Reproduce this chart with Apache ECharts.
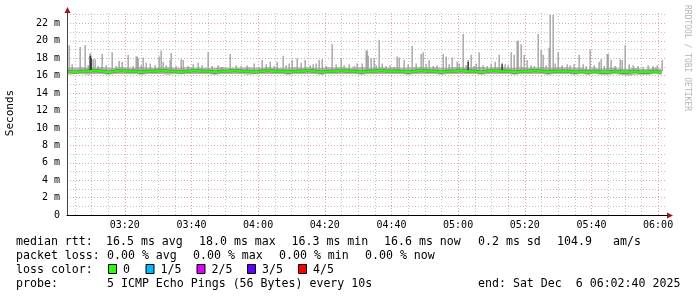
<!DOCTYPE html>
<html><head><meta charset="utf-8">
<script src="https://cdn.jsdelivr.net/npm/echarts@6/dist/echarts.min.js"></script>
<style>html,body{margin:0;padding:0;background:#fff}#c{width:697px;height:297px}</style>
</head><body><div id="c"></div><script>
// time values are minutes after 03:00
const startMin = 2 + 40 / 60;   // 03:02:40
const endMin = 182 + 40 / 60;   // 06:02:40
const yMax = 23.2;
const yLabelValues = [0, 2, 4, 6, 8, 10, 12, 14, 16, 18, 20, 22];
const yMinorValues = [0,1,2,3,4,5,6,7,8,9,10,11,12,13,14,15,16,17,18,19,20,21,22,23];
const xLabelValues = [20, 40, 60, 80, 100, 120, 140, 160, 180];
const xMinorValues = [5,10,15,20,25,30,35,40,45,50,55,60,65,70,75,80,85,90,95,100,105,110,115,120,125,130,135,140,145,150,155,160,165,170,175,180];

// smoke band / median, one value every 2 minutes from 03:03
const bandStart = 3, bandStep = 2;
const median = [16.5,16.4,16.5,16.5,16.6,16.5,16.4,16.5,16.6,16.5,
16.5,16.4,16.5,16.5,16.6,16.5,16.5,16.4,16.5,16.6,
16.5,16.5,16.4,16.5,16.5,16.6,16.5,16.5,16.4,16.5,
16.6,16.5,16.5,16.4,16.5,16.5,16.6,16.5,16.4,16.5,
16.5,16.6,16.5,16.5,16.4,16.5,16.5,16.6,16.5,16.5,
16.5,16.4,16.5,16.6,16.5,16.5,16.4,16.5,16.5,16.6,
16.5,16.5,16.4,16.5,16.6,16.5,16.5,16.4,16.5,16.5,
16.6,16.5,16.4,16.5,16.5,16.5,16.4,16.5,16.4,16.5,
16.4,16.4,16.5,16.4,16.4,16.5,16.4,16.4,16.5,16.4];
const bandLow = [16.1,16.2,16.2,16.1,16.2,16.2,16.1,16.2,16.2,16.2,
16.2,16.1,16.2,16.2,16.2,16.1,16.2,16.2,16.2,16.2,
16.2,16.2,16.1,16.2,16.2,16.2,16.2,16.1,16.2,16.2,
16.2,16.2,16.2,16.1,16.2,16.2,16.2,16.2,16.1,16.2,
16.2,16.2,16.2,16.2,16.1,16.2,16.2,16.2,16.2,16.2,
16.2,16.1,16.2,16.2,16.2,16.2,16.1,16.2,16.2,16.2,
16.2,16.2,16.1,16.2,16.2,16.2,16.2,16.1,16.2,16.2,
16.2,16.2,16.1,16.2,16.2,16.2,16.1,16.2,16.1,16.2,
16.1,16.1,16.2,16.1,16.0,16.1,16.1,16.1,16.2,16.1];
const bandHigh = [16.9,16.9,17.0,16.9,16.9,17.0,16.9,16.9,17.0,16.9,
16.9,17.0,16.9,16.9,16.9,17.0,16.9,16.9,17.0,16.9,
16.9,16.9,16.9,17.0,16.9,16.9,16.9,17.0,16.9,16.9,
17.0,16.9,16.9,16.9,17.0,16.9,17.0,16.9,16.9,17.0,
16.9,17.0,16.9,16.9,17.0,16.9,16.9,17.0,16.9,17.0,
16.9,16.9,17.0,17.0,16.9,17.0,16.9,16.9,17.0,17.0,
16.9,17.0,17.0,16.9,17.0,17.0,16.9,16.9,17.0,16.9,
16.9,17.0,16.9,16.9,17.0,16.9,16.9,16.9,16.8,16.9,
16.8,16.9,16.9,16.8,16.8,16.9,16.8,16.8,16.9,16.8];

// single-sample smoke spikes (minutes after 03:00, top in ms)
const spikeBase = 16.5;
const spikeMin = [3.3,4.2,6.6,8.1,9.0,9.6,9.9,10.5,11.1,12.0,13.2,14.4,16.2,17.4,18.3,19.2,21.0,22.5,23.4,23.7,24.0,24.9,25.5,26.4,27.6,29.1,30.3,30.9,31.5,32.4,33.6,33.9,35.4,36.9,37.5,39.0,40.5,42.0,43.2,45.0,46.2,48.0,49.2,51.6,53.4,54.9,56.7,58.8,60.3,61.2,62.4,63.6,64.8,65.7,67.5,68.4,69.3,70.2,71.7,72.9,74.1,75.6,76.5,77.4,78.3,79.2,80.4,82.2,83.4,84.9,85.8,87.3,88.8,89.7,91.2,92.4,92.7,93.0,93.9,94.8,95.4,96.3,97.2,98.4,99.6,100.8,101.7,102.3,103.8,105.0,106.2,107.4,108.9,109.5,110.4,111.3,112.5,113.7,115.5,116.4,117.3,118.2,119.7,120.3,121.5,122.4,123.0,123.9,124.8,125.4,126.3,127.5,128.7,129.9,131.1,132.3,133.2,134.1,135.0,135.9,136.8,137.7,138.0,138.9,139.8,140.7,141.9,142.8,144.0,144.9,145.5,146.4,147.3,147.6,148.5,149.1,150.0,151.2,152.7,153.6,154.8,156.3,157.5,158.4,159.6,160.8,162.3,162.9,163.8,164.7,165.0,165.9,167.1,168.6,169.2,170.1,171.3,172.5,174.0,175.5,177.0,178.5,179.7,181.2];
const spikeTop = [19.5,17.3,19.3,19.5,17.2,18.6,18.3,17.9,17.9,17.1,18.5,17.2,18.7,17.1,17.7,17.6,18.4,17.1,18.2,18.2,18.0,17.2,18.1,17.5,17.4,17.2,18.2,18.9,17.6,17.2,17.8,18.6,17.1,17.9,17.8,17.1,17.3,17.5,17.2,18.7,17.1,17.2,17.0,18.5,17.2,17.1,17.2,17.4,17.0,17.8,17.3,17.6,17.1,17.6,18.3,17.2,17.4,17.8,18.0,17.5,17.8,17.2,17.3,17.4,17.8,17.9,17.1,19.6,17.3,18.0,17.2,17.3,17.1,17.4,17.4,18.9,18.9,18.3,18.0,18.0,17.2,20.1,17.4,17.1,17.2,17.0,18.2,18.1,17.8,17.3,19.4,17.4,18.5,18.7,17.3,17.8,17.1,17.2,18.5,18.2,17.3,18.1,17.6,17.4,20.8,17.2,17.8,18.4,17.1,17.4,18.7,17.2,17.1,17.4,17.6,18.4,17.5,17.3,17.2,18.7,18.4,20.0,20.0,19.6,18.4,17.8,17.2,17.1,20.8,19.0,18.4,17.2,19.2,23.0,23.0,17.4,18.7,17.2,17.3,17.2,17.3,18.4,17.3,17.1,19.0,17.2,17.6,17.9,17.1,18.5,18.5,17.8,17.1,17.9,17.8,19.5,17.3,17.2,17.1,17.0,17.2,17.1,17.2,17.8];
const darkSpikeMin = [9.6, 9.9, 123.0, 133.2];
const darkSpikeTop = [18.3, 18.0, 17.6, 17.3];

const statLines = [
  [[16,'median rtt:'],[106,'16.5 ms avg'],[199,'18.0 ms max'],[291.5,'16.3 ms min'],[384,'16.6 ms now'],[478,'0.2 ms sd'],[557,'104.9'],[613,'am/s']],
  [[16,'packet loss:'],[107,'0.00 % avg'],[193,'0.00 % max'],[279,'0.00 % min'],[365,'0.00 % now']],
  [[16,'loss color:']],
  [[16,'probe:'],[107,'5 ICMP Echo Pings (56 Bytes) every 10s'],[478,'end: Sat Dec  6 06:02:40 2025']]
];
const lossLabels = ['0', '1/5', '2/5', '3/5', '4/5'];
const lossColors = ['#26ff00', '#00b8ff', '#dd00ff', '#5e00ff', '#ff0000'];
const lossBoxX = [108, 145.5, 196.5, 247, 298];

const pad = n => (n < 10 ? '0' : '') + n;
const fmtTime = v => pad(3 + Math.floor(v / 60)) + ':' + pad(Math.round(v % 60));
const bandT = median.map((_, i) => bandStart + i * bandStep);

const MONO = '"DejaVu Sans Mono", monospace';
const gridGray = '#c4c4c4', gridRed = '#e6a5a5';

const graphics = [];
const lineY = [241.5, 255.5, 269.5, 283.5];
statLines.forEach((segs, li) => segs.forEach(([x, t]) => graphics.push({
  type: 'text', x: x, y: lineY[li],
  style: { text: t, font: '11.6px ' + MONO, fill: '#000', verticalAlign: 'middle', textVerticalAlign: 'middle' }
})));
lossLabels.forEach((lab, i) => {
  graphics.push({ type: 'rect', shape: { x: lossBoxX[i] + 0.5, y: 264.5, width: 8, height: 9 },
    style: { fill: lossColors[i], stroke: '#000', lineWidth: 1 } });
  graphics.push({ type: 'text', x: lossBoxX[i] + 15, y: lineY[2],
    style: { text: lab, font: '11.6px ' + MONO, fill: '#000', verticalAlign: 'middle', textVerticalAlign: 'middle' } });
});
graphics.push({ type: 'text', x: 10, y: 113, rotation: Math.PI / 2,
  style: { text: 'Seconds', font: '11px ' + MONO, fill: '#000', align: 'center', textAlign: 'center', verticalAlign: 'middle', textVerticalAlign: 'middle' } });
graphics.push({ type: 'text', x: 687, y: 5, rotation: -Math.PI / 2,
  style: { text: 'RRDTOOL / TOBI OETIKER', font: '8px ' + MONO, fill: '#b4b4b4', align: 'left', textAlign: 'left', verticalAlign: 'middle', textVerticalAlign: 'middle' } });
graphics.push({ type: 'polygon', shape: { points: [[673, 215.5], [667, 212.5], [667, 218.5]] }, style: { fill: '#a01818' } });
graphics.push({ type: 'polygon', shape: { points: [[67.5, 7], [64.5, 13], [70.5, 13]] }, style: { fill: '#a01818' } });

const spikeRender = color => (params, api) => {
  const p0 = api.coord([api.value(0), api.value(1)]);
  const p1 = api.coord([api.value(0), api.value(2)]);
  return { type: 'rect', shape: { x: p0[0] - 0.6, y: p1[1], width: 1.3, height: p0[1] - p1[1] },
    style: { fill: color } };
};

const chart = echarts.init(document.getElementById('c'), null, { renderer: 'canvas' });
chart.setOption({
  animation: false,
  backgroundColor: '#fff',
  grid: { left: 67, right: 30, top: 13, bottom: 82, containLabel: false },
  xAxis: [{
    type: 'value', min: startMin, max: endMin, position: 'bottom',
    axisLine: { show: true, onZero: false, lineStyle: { color: '#000', width: 1 } },
    axisTick: { show: false, customValues: xMinorValues },
    axisLabel: { customValues: xLabelValues, formatter: fmtTime, color: '#000', fontFamily: MONO, fontSize: 10, margin: 5 },
    splitLine: { show: true, lineStyle: { color: gridGray, type: [1, 2], width: 1 } }
  }, {
    type: 'value', min: startMin, max: endMin, position: 'top',
    axisLine: { show: false }, axisLabel: { show: false },
    axisTick: { show: false, customValues: xLabelValues },
    splitLine: { show: true, lineStyle: { color: gridRed, type: [1, 2], width: 1 } }
  }],
  yAxis: [{
    type: 'value', min: 0, max: yMax, position: 'left',
    axisLine: { show: true, onZero: false, lineStyle: { color: '#444', width: 1 } },
    axisTick: { show: false, customValues: yMinorValues },
    axisLabel: { customValues: yLabelValues, formatter: v => v === 0 ? '0' : v + ' m', color: '#000', fontFamily: MONO, fontSize: 10, margin: 7 },
    splitLine: { show: true, lineStyle: { color: gridGray, type: [1, 2], width: 1 } }
  }, {
    type: 'value', min: 0, max: yMax, position: 'right',
    axisLine: { show: false }, axisLabel: { show: false },
    axisTick: { show: false, customValues: yLabelValues.slice(1) },
    splitLine: { show: true, lineStyle: { color: gridRed, type: [1, 2], width: 1 } }
  }],
  series: [
    { type: 'custom', silent: true, clip: true,
      renderItem: (params, api) => {
        const top = bandT.map((t, i) => api.coord([t, bandHigh[i]]));
        const bot = bandT.map((t, i) => api.coord([t, bandLow[i]])).reverse();
        return { type: 'polygon', shape: { points: top.concat(bot) }, style: { fill: '#b4b4b4' } };
      },
      data: [[bandT[0], bandLow[0]]] },
    { type: 'custom', silent: true, renderItem: spikeRender('#9c9c9c'),
      data: spikeMin.map((t, i) => [t, spikeBase, spikeTop[i]]) },
    { type: 'custom', silent: true, renderItem: spikeRender('#303030'),
      data: darkSpikeMin.map((t, i) => [t, spikeBase, darkSpikeTop[i]]) },
    { type: 'line', symbol: 'none', silent: true,
      lineStyle: { color: '#303030', width: 3, opacity: 0.55 }, data: bandT.map((t, i) => [t, median[i]]) },
    { type: 'line', symbol: 'none', silent: true,
      lineStyle: { color: '#26ff00', width: 2.2 }, data: bandT.map((t, i) => [t, median[i]]) }
  ],
  graphic: graphics
});
</script></body></html>
